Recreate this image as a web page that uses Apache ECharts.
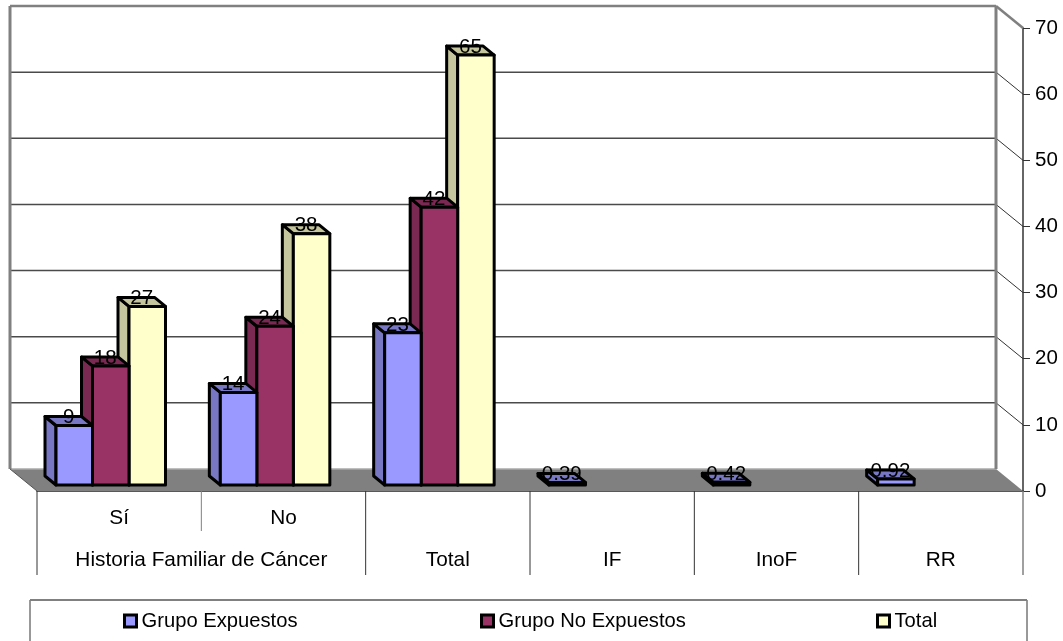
<!DOCTYPE html>
<html>
<head>
<meta charset="utf-8">
<style>html,body{margin:0;padding:0;background:#fff}#c{width:1063px;height:641px}</style>
<script src="https://cdn.jsdelivr.net/npm/echarts@6/dist/echarts.min.js"></script>
</head>
<body>
<div id="c"></div>
<script>
const categories = ['Sí', 'No', 'Total', 'IF', 'InoF', 'RR'];
const rowOneLabels = ['Sí', 'No', '', '', '', ''];
const groupLabels = ['Historia Familiar de Cáncer', 'Total', 'IF', 'InoF', 'RR'];
const groupStarts = [0, 2, 3, 4, 5];
const groupEnds = [2, 3, 4, 5, 6];
const shortDividers = [1];
const expuestos = [9, 14, 23, 0.39, 0.42, 0.92];
const noExpuestos = [18, 24, 42, null, null, null];
const totales = [27, 38, 65, null, null, null];
const expuestosLabels = ['9', '14', '23', '0.39', '0.42', '0.92'];
const noExpuestosLabels = ['18', '24', '42', '', '', ''];
const totalesLabels = ['27', '38', '65', '', '', ''];
const yTicks = [0, 10, 20, 30, 40, 50, 60, 70];

const FAMILY = '"Liberation Sans", Arial, sans-serif';
const FONT = '20.5px ' + FAMILY;
const AXIS_FONT = '20.8px ' + FAMILY;
const WALL = { x: 27, y: 22 };
const BAR = { dx: 11, dy: 9, width: 36.5, inset: 19, lift: 6 };

function bandOf(api) { return api.size([1, 0])[0]; }
function edge(api, i) { return api.coord([0, 0])[0] - bandOf(api) / 2 + i * bandOf(api); }

function barRenderer(order, front, side, top, labels) {
  return function (params, api) {
    const i = api.value(0), v = api.value(1);
    if (v === null || isNaN(v)) return null;
    const y0 = api.coord([i, 0])[1];
    const x1 = edge(api, i) + BAR.inset + order * BAR.width;
    const x2 = x1 + BAR.width;
    const yb = y0 - BAR.lift;
    const yt = yb - (y0 - api.coord([i, v])[1]);
    const stroke = { stroke: '#000', lineWidth: 3, lineJoin: 'round' };
    return {
      type: 'group',
      children: [
        { type: 'polygon', shape: { points: [[x1, yb], [x1 - BAR.dx, yb - BAR.dy], [x1 - BAR.dx, yt - BAR.dy], [x1, yt]] }, style: Object.assign({ fill: side }, stroke) },
        { type: 'polygon', shape: { points: [[x1, yt], [x1 - BAR.dx, yt - BAR.dy], [x2 - BAR.dx, yt - BAR.dy], [x2, yt]] }, style: Object.assign({ fill: top }, stroke) },
        { type: 'polygon', shape: { points: [[x1, yb], [x1, yt], [x2, yt], [x2, yb]] }, style: Object.assign({ fill: front }, stroke) },
        { type: 'text', style: { x: (x1 + x2) / 2 - BAR.dx / 2, y: yt - BAR.dy + 1, text: labels[i], fill: '#000', font: FONT, textAlign: 'center', textVerticalAlign: 'middle' } }
      ]
    };
  };
}

function pairs(values) { return values.map((v, i) => [i, v]); }

function barSeries(name, values, order, z, front, side, top, labels) {
  return {
    name, type: 'custom', z, clip: false, silent: true,
    data: pairs(values), encode: { x: 0, y: 1 },
    itemStyle: { color: front, borderColor: '#000', borderWidth: 3 },
    renderItem: barRenderer(order, front, side, top, labels)
  };
}

const wallSeries = {
  name: 'wall', type: 'custom', z: 1, clip: false, silent: true,
  data: yTicks.map(v => [0, v]), encode: { x: 0, y: 1 },
  renderItem: function (params, api) {
    const v = api.value(1);
    const y = api.coord([0, v])[1];
    const xl = edge(api, 0), xr = edge(api, 6);
    const children = [];
    if (v === 0) {
      children.push({ type: 'polygon', shape: { points: [[xl - WALL.x, y - WALL.y], [xr - WALL.x, y - WALL.y], [xr, y], [xl, y]] }, style: { fill: '#808080' } });
      children.push({ type: 'line', shape: { x1: xl - WALL.x, y1: y - WALL.y, x2: xr - WALL.x, y2: y - WALL.y }, style: { stroke: '#aaaaaa', lineWidth: 1.5 } });
      return { type: 'group', children };
    }
    const top = v === 70;
    children.push({ type: 'line', shape: { x1: xl - WALL.x, y1: y - WALL.y, x2: xr - WALL.x, y2: y - WALL.y }, style: { stroke: top ? '#808080' : '#4a4a4a', lineWidth: top ? 2.5 : 1.5 } });
    children.push({ type: 'line', shape: { x1: xr - WALL.x, y1: y - WALL.y, x2: xr, y2: y }, style: { stroke: top ? '#808080' : '#333333', lineWidth: top ? 2.5 : 1 } });
    if (top) {
      const yz = api.coord([0, 0])[1];
      children.push({ type: 'line', shape: { x1: xl - WALL.x, y1: y - WALL.y, x2: xl - WALL.x, y2: yz - WALL.y }, style: { stroke: '#808080', lineWidth: 3 } });
      children.push({ type: 'line', shape: { x1: xr - WALL.x, y1: y - WALL.y, x2: xr - WALL.x, y2: yz - WALL.y }, style: { stroke: '#808080', lineWidth: 3 } });
      children.push({ type: 'line', shape: { x1: xl - WALL.x, y1: yz - WALL.y, x2: xl, y2: yz }, style: { stroke: '#555555', lineWidth: 1 } });
    }
    return { type: 'group', children };
  }
};

const axisRowSeries = {
  name: 'axisRows', type: 'custom', z: 1, clip: false, silent: true,
  data: groupLabels.map((g, i) => [i, 0]), encode: { x: 0, y: 1 },
  renderItem: function (params, api) {
    const k = api.value(0);
    const y0 = api.coord([0, 0])[1];
    const xa = edge(api, groupStarts[k]), xb = edge(api, groupEnds[k]);
    const children = [
      { type: 'line', shape: { x1: xa, y1: y0, x2: xa, y2: y0 + 84 }, style: { stroke: '#333', lineWidth: 1 } },
      { type: 'text', style: { x: (xa + xb) / 2, y: y0 + 69, text: groupLabels[k], fill: '#000', font: AXIS_FONT, textAlign: 'center', textVerticalAlign: 'middle' } }
    ];
    if (k === groupLabels.length - 1) {
      children.push({ type: 'line', shape: { x1: xb, y1: y0, x2: xb, y2: y0 + 84 }, style: { stroke: '#808080', lineWidth: 1.5 } });
    }
    shortDividers.forEach(d => {
      if (d > groupStarts[k] && d < groupEnds[k]) {
        const xd = edge(api, d);
        children.push({ type: 'line', shape: { x1: xd, y1: y0, x2: xd, y2: y0 + 40 }, style: { stroke: '#808080', lineWidth: 1 } });
      }
    });
    return { type: 'group', children };
  }
};

const legendText = { color: '#000', fontSize: 20.2, fontFamily: FAMILY };
function legendFor(name, left) {
  return {
    data: [name], left, top: 611, orient: 'horizontal', padding: 0,
    itemWidth: 12, itemHeight: 12, itemGap: 0, selectedMode: false,
    itemStyle: { borderColor: '#000', borderWidth: 3 },
    textStyle: legendText, icon: 'rect'
  };
}

const chart = echarts.init(document.getElementById('c'), null, { renderer: 'canvas' });
chart.setOption({
  animation: false,
  backgroundColor: '#fff',
  grid: { left: 37, right: 40, top: 28, bottom: 150 },
  xAxis: {
    type: 'category', data: categories, boundaryGap: true,
    axisLine: { show: true, onZero: true, lineStyle: { color: '#222', width: 1.5 } },
    axisTick: { show: false },
    axisLabel: { show: true, margin: 17, color: '#000', fontSize: 20.8, fontFamily: FAMILY, interval: 0, formatter: function (v, i) { return rowOneLabels[i]; } },
    splitLine: { show: false }
  },
  yAxis: {
    type: 'value', position: 'right', min: 0, max: 70, interval: 10,
    axisLine: { show: true, lineStyle: { color: '#666', width: 2 } },
    axisTick: { show: true, length: 7, lineStyle: { color: '#333', width: 1 } },
    axisLabel: { margin: 12, color: '#000', fontSize: 20.5, fontFamily: FAMILY },
    splitLine: { show: false }
  },
  legend: [
    legendFor('Grupo Expuestos', 123),
    legendFor('Grupo No Expuestos', 480),
    legendFor('Total', 876)
  ],
  graphic: [
    { type: 'rect', z: 0, shape: { x: 30, y: 600, width: 997, height: 60 }, style: { fill: '#fff', stroke: '#333', lineWidth: 1 } },
    { type: 'line', z: 0, shape: { x1: 30, y1: 600, x2: 1027, y2: 600 }, style: { stroke: '#808080', lineWidth: 2 } }
  ],
  series: [
    wallSeries,
    axisRowSeries,
    barSeries('Total', totales, 2, 3, '#FFFFCC', '#C6C69E', '#C6C69E', totalesLabels),
    barSeries('Grupo No Expuestos', noExpuestos, 1, 4, '#993366', '#7A2952', '#7A2952', noExpuestosLabels),
    barSeries('Grupo Expuestos', expuestos, 0, 5, '#9999FF', '#7777C4', '#7777C4', expuestosLabels)
  ]
});
</script>
</body>
</html>
